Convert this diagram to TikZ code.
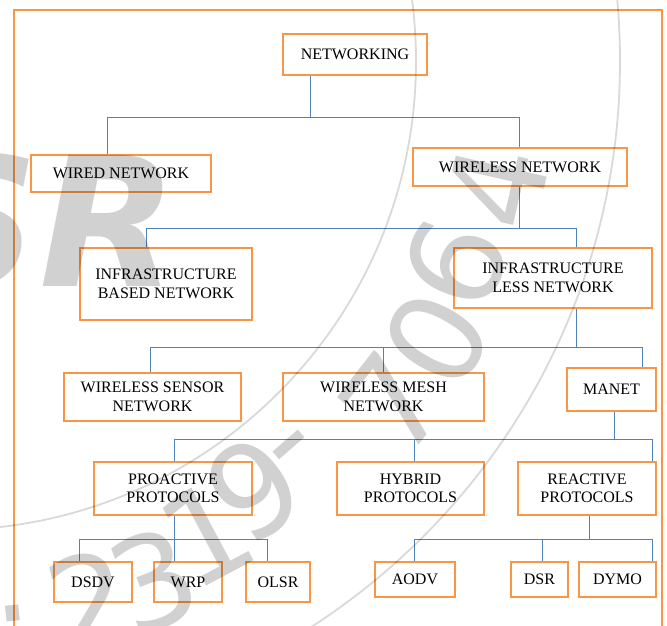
\documentclass[tikz,border=0pt]{standalone}
\usepackage{fontspec}
\setmainfont{Liberation Serif}
\newfontfamily\wmfont{DejaVu Sans}
\definecolor{boxorange}{RGB}{247,150,70}
\definecolor{connblue}{RGB}{79,129,189}
\begin{document}
\begin{tikzpicture}[x=1pt,y=-1pt,
  box/.style={draw=boxorange, line width=2pt, inner sep=0pt, align=center,
    font=\fontsize{16}{18.5}\selectfont, text=black},
  conn/.style={draw=connblue, line width=0.9pt},
  wmchar/.style={text=black, text opacity=0.18, inner sep=0pt,
    font=\wmfont\fontsize{128}{128}\selectfont},
  wmline/.style={draw=black, draw opacity=0.15, line width=1.8pt}]
\useasboundingbox (0,0) rectangle (667,626);
\begin{scope}
\clip (0,0) rectangle (667,626);
\draw[boxorange, line width=1.6pt] (14,700) -- (14,10) -- (662,10) -- (662,700);
\end{scope}

% nodes
\node[box, minimum width=144, minimum height=41] (net) at (355,54.5) {NETWORKING};
\node[box, minimum width=180, minimum height=37] (wired) at (121,173.5) {WIRED NETWORK};
\node[box, minimum width=214, minimum height=38] (wireless) at (520,167) {WIRELESS NETWORK};
\node[box, minimum width=172, minimum height=72] (infb) at (166,284) {INFRASTRUCTURE\\BASED NETWORK};
\node[box, minimum width=198, minimum height=60] (infl) at (553,278) {INFRASTRUCTURE\\LESS NETWORK};
\node[box, minimum width=177, minimum height=48] (wsn) at (152.5,397) {WIRELESS SENSOR\\NETWORK};
\node[box, minimum width=201, minimum height=48] (wmesh) at (383.5,397) {WIRELESS MESH\\NETWORK};
\node[box, minimum width=89, minimum height=43] (manet) at (611.5,389.5) {MANET};
\node[box, minimum width=158, minimum height=53] (pro) at (173,488.5) {PROACTIVE\\PROTOCOLS};
\node[box, minimum width=147, minimum height=53] (hyb) at (410.5,488.5) {HYBRID\\PROTOCOLS};
\node[box, minimum width=138, minimum height=53] (rea) at (587,488.5) {REACTIVE\\PROTOCOLS};
\node[box, minimum width=78, minimum height=40] (dsdv) at (93,582) {DSDV};
\node[box, minimum width=68, minimum height=40] (wrp) at (188,582) {WRP};
\node[box, minimum width=64, minimum height=40] (olsr) at (278,582) {OLSR};
\node[box, minimum width=80, minimum height=35] (aodv) at (415,579.5) {AODV};
\node[box, minimum width=57, minimum height=35] (dsr) at (539.5,579.5) {DSR};
\node[box, minimum width=77, minimum height=35] (dymo) at (617.5,579.5) {DYMO};

% level 1
\coordinate (j1) at (310,117);
\coordinate (j1a) at (107,117);
\coordinate (j1b) at (519,117);
\draw[conn] (net.south -| j1) -- (j1);
\draw[conn] (wired.north -| j1a) -- (j1a) -- (j1b) -- (wireless.north -| j1b);
% level 2
\coordinate (j2) at (519,228);
\coordinate (j2a) at (146,228);
\coordinate (j2b) at (576,228);
\draw[conn] (wireless.south -| j2) -- (j2);
\draw[conn] (infb.north -| j2a) -- (j2a) -- (j2b) -- (infl.north -| j2b);
% level 3
\coordinate (j3) at (576,347);
\coordinate (j3a) at (150,347);
\coordinate (j3m) at (383,347);
\coordinate (j3b) at (642,347);
\draw[conn] (infl.south -| j3) -- (j3);
\draw[conn] (wsn.north -| j3a) -- (j3a) -- (j3b) -- (manet.north -| j3b);
\draw[conn] (j3m) -- (wmesh.north -| j3m);
% level 4
\coordinate (j4) at (614,439);
\coordinate (j4a) at (174,439);
\coordinate (j4m) at (414,439);
\coordinate (j4b) at (652,439);
\draw[conn] (manet.south -| j4) -- (j4);
\draw[conn] (pro.north -| j4a) -- (j4a) -- (j4b) -- (rea.north -| j4b);
\draw[conn] (j4m) -- (hyb.north -| j4m);
% level 5 left
\coordinate (j5) at (174,539);
\coordinate (j5a) at (79,539);
\coordinate (j5b) at (267,539);
\draw[conn] (pro.south -| j5) -- (j5);
\draw[conn] (dsdv.north -| j5a) -- (j5a) -- (j5b) -- (olsr.north -| j5b);
\draw[conn] (j5) -- (wrp.north -| j5);
% level 5 right
\coordinate (j6) at (589,539);
\coordinate (j6a) at (414,539);
\coordinate (j6m) at (542,539);
\coordinate (j6b) at (652,539);
\draw[conn] (rea.south -| j6) -- (j6);
\draw[conn] (aodv.north -| j6a) -- (j6a) -- (j6b) -- (dymo.north -| j6b);
\draw[conn] (j6m) -- (dsr.north -| j6m);

% watermark (seal)
\begin{scope}
\clip (0,0) rectangle (667,626);
\coordinate (seal) at (-53,61);
\coordinate (sealtext) at (-45,61);
\draw[wmline] (seal) circle (469);
\draw[wmline] (seal) circle (673);
\foreach \c/\a/\r in {./84/556, 2/76/556, 3/69/556, 1/62/535, 9/55/522,
    -/49/524, 7/38/555, 0/30/556, 6/22/540, 4/13/556}{
  \node[wmchar, rotate=90-\a] at ([shift={(\a:\r)}]sealtext) {\c};
}
\node[text=black, text opacity=0.18, inner sep=0pt, anchor=base east,
  font=\wmfont\bfseries\itshape\fontsize{180}{180}\selectfont] (wmsr) at (178,286) {SR};
\end{scope}
\end{tikzpicture}
\end{document}
